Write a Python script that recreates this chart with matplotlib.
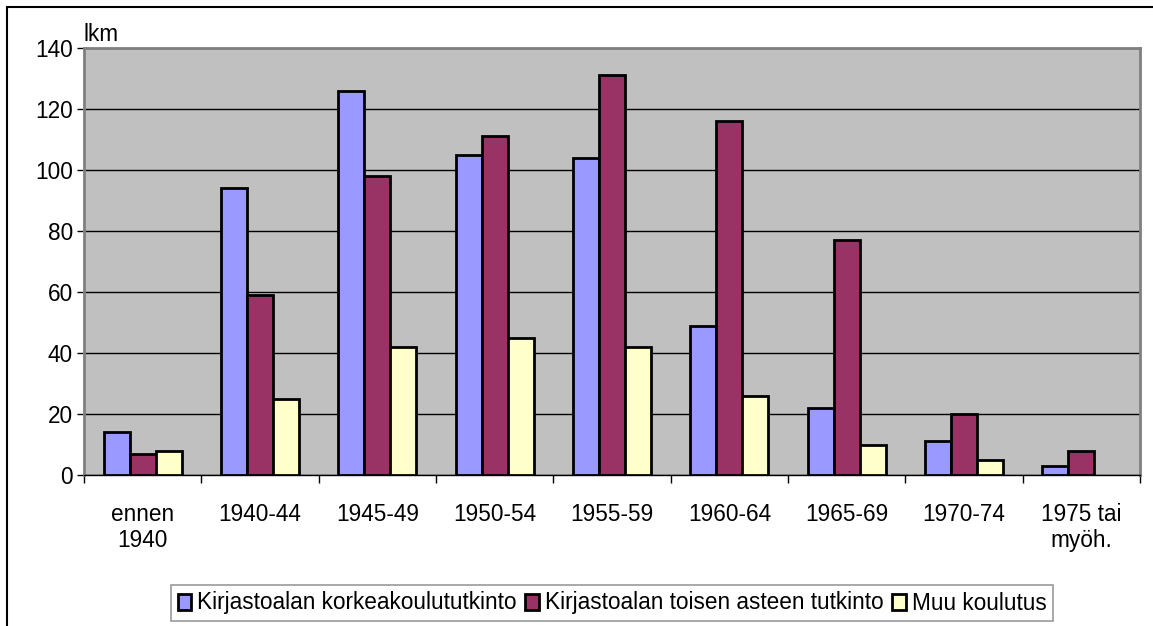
import numpy as np
import matplotlib.pyplot as plt
from matplotlib.patches import Rectangle

plt.rcParams['font.family'] = ['Liberation Sans', 'DejaVu Sans']

categories = ['ennen\n1940', '1940-44', '1945-49', '1950-54', '1955-59',
              '1960-64', '1965-69', '1970-74', '1975 tai\nmyöh.']
korkea = [14, 94, 126, 105, 104, 49, 22, 11, 3]
toinen = [7, 59, 98, 111, 131, 116, 77, 20, 8]
muu = [8, 25, 42, 45, 42, 26, 10, 5, 0]
series_names = ['Kirjastoalan korkeakoulututkinto',
                'Kirjastoalan toisen asteen tutkinto',
                'Muu koulutus']
colors = ['#9999FF', '#993366', '#FFFFCC']

W, H = 1153, 626
FS = 16.3
fig = plt.figure(figsize=(W / 100, H / 100), dpi=100)
ax = fig.add_axes([84 / W, 1 - 475 / H, (1140 - 84) / W, (475 - 48) / H])
ax.set_facecolor('#C0C0C0')

x = np.arange(len(categories))
bw = 0.222
for i, (vals, c, name) in enumerate(zip([korkea, toinen, muu], colors, series_names)):
    bars = ax.bar(x + (i - 1) * bw, vals, bw, color=c, edgecolor='black',
                  linewidth=2, label=name, zorder=3)
    for b, v in zip(bars, vals):
        if v == 0:
            b.set_linewidth(0)

ax.set_xlim(-0.5, len(categories) - 0.5)
ax.set_ylim(0, 140)
ax.set_yticks(range(0, 141, 20))
ax.yaxis.grid(True, color='black', linewidth=1, zorder=0)
ax.tick_params(axis='y', labelsize=FS, length=5, width=1, pad=3)

ax.set_xticks(np.arange(len(categories) + 1) - 0.5)
ax.set_xticklabels([])
ax.set_xticks(x, minor=True)
ax.set_xticklabels(categories, minor=True, fontsize=FS, linespacing=1.2)
ax.tick_params(axis='x', which='major', length=6, width=1, direction='out')
ax.tick_params(axis='x', which='minor', length=0, pad=20)

for s in ax.spines.values():
    s.set_color('#808080')
    s.set_linewidth(2)
ax.spines['bottom'].set_color('black')
ax.spines['bottom'].set_linewidth(1)

fig.text(84 / W, 1 - 46 / H, 'lkm', fontsize=FS, ha='left', va='bottom')

leg = ax.legend(loc='center', bbox_to_anchor=(612 / W, 1 - 603 / H),
                bbox_transform=fig.transFigure, ncol=3, fontsize=FS,
                frameon=True, fancybox=False, edgecolor='#808080',
                handlelength=0.6, handleheight=0.7, handletextpad=0.25,
                columnspacing=0.4, borderpad=0.3, borderaxespad=0)
leg.get_frame().set_linewidth(1.2)

fig.patches.append(Rectangle((7 / W, -0.1), 1.2, 1 - 7 / H + 0.1,
                             transform=fig.transFigure, fill=False,
                             edgecolor='black', linewidth=1.5))

fig.savefig('out.png', dpi=100)
